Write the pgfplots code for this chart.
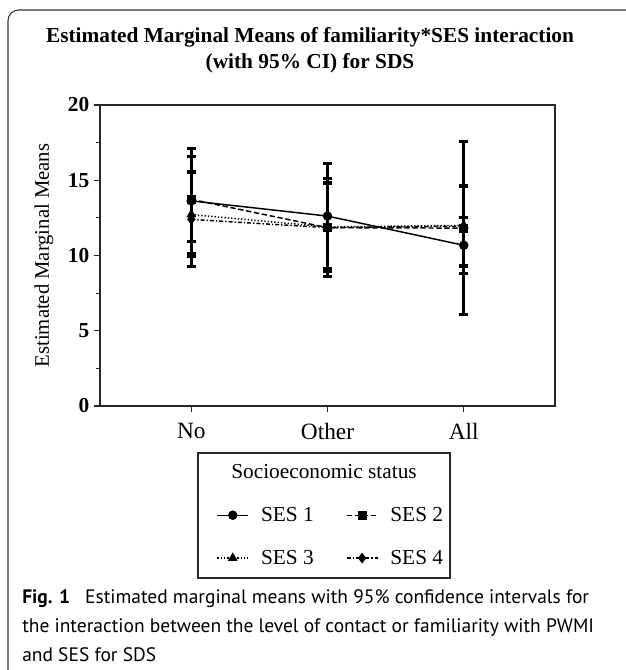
\documentclass[border=0pt]{standalone}
\usepackage{fontspec}
\setmainfont{Liberation Serif}
\newfontfamily\capfont{PT Sans}
\usepackage{pgfplots}
\usepackage{pgfplotstable}
\pgfplotsset{compat=1.18}

% mean, upper and lower half-width of the 95% CI
\pgfplotstableread{
x y ep em
0 13.63 3.49 3.49
1 12.62 3.50 3.47
2 10.68 1.83 1.86
}\sesA
\pgfplotstableread{
x y ep em
0 13.73 2.84 2.81
1 11.85 3.27 3.26
2 11.82 5.74 5.73
}\sesB
\pgfplotstableread{
x y ep em
0 12.72 2.85 2.80
1 11.90 2.98 2.97
2 12.00 2.64 2.63
}\sesC
\pgfplotstableread{
x y ep em
0 12.40 3.10 3.10
1 11.85 2.95 2.90
2 11.95 2.65 2.65
}\sesD

\begin{document}
\begin{tikzpicture}
\useasboundingbox (0,0) rectangle (468.75pt,-502.5pt);
\draw[black!80, line width=0.8pt, rounded corners=8pt] (6pt,-510pt) -- (6pt,-7.5pt) -- (480pt,-7.5pt);

\node[align=center, font=\bfseries\fontsize{16}{19.5}\selectfont] at (232.5pt,-38pt)
  {Estimated Marginal Means of familiarity*SES interaction\\(with 95\% CI) for SDS};

\begin{axis}[
  scale only axis,
  width=341.25pt, height=225.75pt,
  at={(75pt,-304.5pt)}, anchor=south west,
  xmin=-0.67, xmax=2.67, ymin=0, ymax=20,
  xtick={0,1,2}, xticklabels={No,Other,All},
  ytick={0,5,10,15,20}, minor y tick num=1,
  tick pos=left, tick align=outside,
  major tick length=4.5pt, minor tick length=3pt,
  axis line style={line width=0.9pt, black!85},
  every tick/.style={line width=0.9pt, black!85},
  /pgf/number format/assume math mode=true,
  yticklabel style={font=\bfseries\fontsize{16}{16}\selectfont},
  xticklabel style={font=\fontsize{17.5}{17.5}\selectfont, yshift=-5pt},
  ylabel={Estimated Marginal Means},
  every axis y label/.style={at={(axis description cs:-0.123,0.5)}, rotate=90, anchor=center},
  ylabel style={font=\fontsize{15.5}{15.5}\selectfont},
  legend image code/.code={\draw[mark repeat=2,mark phase=2,#1] plot coordinates {(0cm,0cm) (0.41cm,0cm) (0.82cm,0cm)};},
  legend columns=2,
  legend style={draw=none, fill=none, at={(axis description cs:0.508,-0.434)}, anchor=center,
    font=\fontsize{16}{16}\selectfont, row sep=16pt,
    /tikz/every odd column/.append style={column sep=7pt},
    /tikz/every even column/.append style={column sep=22pt}},
  error bars/y dir=both, error bars/y explicit,
  error bars/error bar style={line width=2.2pt, black, solid},
  error bars/error mark options={rotate=90, mark size=3.5pt, line width=2.2pt, black, solid},
]
\addplot[black, line width=1.1pt, mark=*, mark size=3pt, mark options={solid}]
  table[x=x, y=y, y error plus=ep, y error minus=em]{\sesA};
\addlegendentry{SES 1}
\addplot[black, line width=1.1pt, dash pattern=on 4pt off 2pt, mark=square*, mark size=2.8pt, mark options={solid}]
  table[x=x, y=y, y error plus=ep, y error minus=em]{\sesB};
\addlegendentry{SES 2}
\addplot[black, line width=1.1pt, dash pattern=on 1pt off 1.5pt, mark=triangle*, mark size=3.2pt, mark options={solid}]
  table[x=x, y=y, y error plus=ep, y error minus=em]{\sesC};
\addlegendentry{SES 3}
\addplot[black, line width=1.1pt, dash pattern=on 3pt off 1.5pt on 1pt off 1.5pt, mark=diamond*, mark size=3.2pt, mark options={solid}]
  table[x=x, y=y, y error plus=ep, y error minus=em]{\sesD};
\addlegendentry{SES 4}
\end{axis}

\draw[black!85, line width=1.1pt] (148.5pt,-339.75pt) rectangle (337.5pt,-433.5pt);
\node[font=\fontsize{16}{16}\selectfont] at (243pt,-354pt) {Socioeconomic status};

\node[anchor=base west, align=left, inner sep=0pt, font=\capfont\fontsize{14.6}{21.75}\selectfont]
  at (16.5pt,-495.75pt)
  {\textbf{Fig. 1}\hspace{0.5em} Estimated marginal means with 95\% confidence intervals for\\
   the interaction between the level of contact or familiarity with PWMI\\
   and SES for SDS};
\end{tikzpicture}
\end{document}
